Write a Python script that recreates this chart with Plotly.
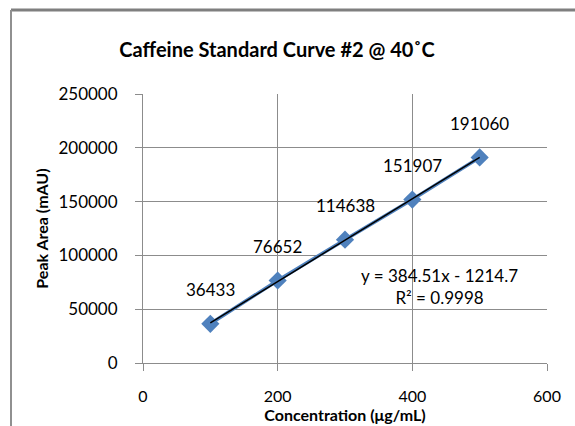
import numpy as np
import plotly.graph_objects as go

concentration = [100, 200, 300, 400, 500]
peak_area = [36433, 76652, 114638, 151907, 191060]
x_ticks = [0, 200, 400, 600]
y_ticks = [0, 50000, 100000, 150000, 200000, 250000]

slope, intercept = np.polyfit(concentration, peak_area, 1)

FONT = "Lato, Carlito, Calibri, sans-serif"
GRID = "#8c8c8c"

fig = go.Figure()
fig.add_trace(go.Scatter(
    x=concentration, y=peak_area, mode="lines+markers",
    line=dict(color="#4F81BD", width=3.5),
    marker=dict(symbol="diamond", size=14, color="#4F81BD"),
    showlegend=False, hoverinfo="skip"))
fig.add_trace(go.Scatter(
    x=[concentration[0], concentration[-1]],
    y=[slope * concentration[0] + intercept, slope * concentration[-1] + intercept],
    mode="lines", line=dict(color="black", width=1.5),
    showlegend=False, hoverinfo="skip"))

for xv, yv in zip(concentration, peak_area):
    fig.add_annotation(x=xv, y=yv, text=str(yv), showarrow=False,
                       yshift=34, font=dict(family=FONT, size=17, color="black"))

fig.add_annotation(x=440, y=(363.3 - 286.5) / 269.3 * 250000,
                   text="y = 384.51x - 1214.7<br>R² = 0.9998",
                   showarrow=False, align="center",
                   font=dict(family=FONT, size=17, color="black"))

fig.update_layout(
    width=575, height=426,
    margin=dict(l=143, r=28, t=94, b=63),
    paper_bgcolor="white", plot_bgcolor="white",
    font=dict(family=FONT, color="black"),
    title=dict(text="<b>Caffeine Standard Curve #2 @ 40˚C</b>",
               x=277 / 575, xanchor="center", y=1 - 50 / 426, yanchor="middle",
               font=dict(family=FONT, size=20, color="black")),
    xaxis=dict(range=[0, 600], tickvals=x_ticks, showgrid=True, gridcolor=GRID,
               gridwidth=1, showline=True, linecolor=GRID, linewidth=1,
               ticks="outside", ticklen=7, tickcolor=GRID, zeroline=False,
               ticklabelstandoff=12, automargin=False,
               tickfont=dict(family=FONT, size=16, color="black"),
               title=dict(text="<b>Concentration (μg/mL)</b>", standoff=5,
                          font=dict(family=FONT, size=16, color="black"))),
    yaxis=dict(range=[0, 250000], tickvals=y_ticks,
               ticktext=[str(v) for v in y_ticks], showgrid=True, gridcolor=GRID,
               gridwidth=1, showline=True, linecolor=GRID, linewidth=1,
               ticks="outside", ticklen=7, tickcolor=GRID, zeroline=False,
               ticklabelstandoff=14, automargin=False,
               tickfont=dict(family=FONT, size=17, color="black"),
               title=dict(text="<b>Peak Area (mAU)</b>", standoff=5,
                          font=dict(family=FONT, size=16, color="black"))),
    shapes=[
        dict(type="line", xref="paper", yref="paper",
             x0=(11 - 143) / 404, x1=(575 - 143) / 404,
             y0=(363 - 10) / 269, y1=(363 - 10) / 269,
             line=dict(color="#7f7f7f", width=3)),
        dict(type="line", xref="paper", yref="paper",
             x0=(11 - 143) / 404, x1=(11 - 143) / 404,
             y0=(363 - 10) / 269, y1=(363 - 440) / 269,
             line=dict(color="#909090", width=2)),
    ],
)

fig.write_html("out.html", config={"displayModeBar": False})
